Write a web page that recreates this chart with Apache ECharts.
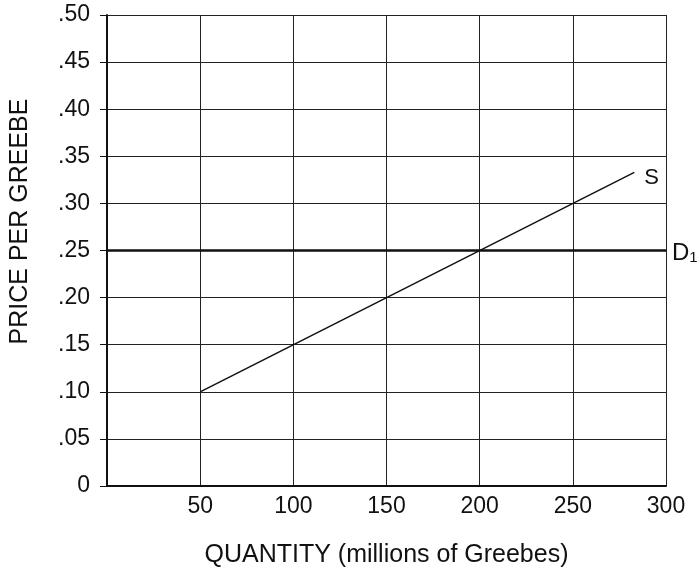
<!DOCTYPE html>
<html>
<head>
<meta charset="utf-8">
<script src="https://cdn.jsdelivr.net/npm/echarts@6/dist/echarts.min.js"></script>
<style>
  html, body { margin: 0; padding: 0; background: #fff; }
  #chart { width: 697px; height: 571px; }
</style>
</head>
<body>
<div id="chart"></div>
<script>
// supply / demand data
var supplyQty = [50, 283];
var supplyPrice = [0.10, 0.333];
var demandQty = [0, 300];
var demandPrice = [0.25, 0.25];
var xTicks = [0, 50, 100, 150, 200, 250, 300];
var yTicks = [0, 0.05, 0.10, 0.15, 0.20, 0.25, 0.30, 0.35, 0.40, 0.45, 0.50];

var FONT = 'Liberation Sans, Arial, sans-serif';
var INK = '#111';
var FS = 23;

function pairs(xs, ys) {
  var out = [];
  for (var i = 0; i < xs.length; i++) out.push([xs[i], ys[i]]);
  return out;
}

var myChart = echarts.init(document.getElementById('chart'));
var option = {
  animation: false,
  backgroundColor: '#fff',
  grid: { left: 107, right: 31, top: 15, bottom: 85, outerBoundsMode: 'none', containLabel: false },
  xAxis: {
    type: 'value',
    min: xTicks[0],
    max: xTicks[xTicks.length - 1],
    interval: 50,
    name: 'QUANTITY (millions of Greebes)',
    nameLocation: 'middle',
    nameGap: 57,
    nameTextStyle: { fontFamily: FONT, fontSize: 25, color: INK },
    axisLine: { show: true, lineStyle: { color: INK, width: 2 } },
    axisTick: { show: false },
    axisLabel: {
      margin: 9,
      fontFamily: FONT, fontSize: FS, color: INK,
      formatter: function (v) { return v === 0 ? '' : String(v); }
    },
    splitLine: { show: true, lineStyle: { color: '#222', width: 1 } }
  },
  yAxis: {
    type: 'value',
    min: yTicks[0],
    max: yTicks[yTicks.length - 1],
    interval: 0.05,
    name: 'PRICE PER GREEBE',
    nameLocation: 'middle',
    nameGap: 74,
    nameRotate: 90,
    nameTextStyle: { fontFamily: FONT, fontSize: 25, color: INK, padding: [0, 0, 0, 58] },
    axisLine: { show: true, lineStyle: { color: INK, width: 2 } },
    axisTick: { show: true, length: 7, lineStyle: { color: INK, width: 1 } },
    axisLabel: {
      margin: 17,
      fontFamily: FONT, fontSize: FS, color: INK,
      formatter: function (v) {
        if (v === 0) return '0';
        return '.' + Math.round(v * 100).toString().padStart(2, '0');
      }
    },
    splitLine: { show: true, lineStyle: { color: '#222', width: 1 } }
  },
  series: [
    {
      name: 'D1',
      type: 'line',
      data: pairs(demandQty, demandPrice),
      symbol: 'none',
      lineStyle: { color: INK, width: 2.5 },
      endLabel: {
        show: true,
        distance: 6,
        formatter: '{d|D}{s|1}',
        rich: {
          d: { fontFamily: FONT, fontSize: 24, color: INK, verticalAlign: 'bottom' },
          s: { fontFamily: FONT, fontSize: 15, color: INK, padding: [14, 0, 0, 0] }
        }
      }
    },
    {
      name: 'S',
      type: 'line',
      data: pairs(supplyQty, supplyPrice),
      symbol: 'none',
      lineStyle: { color: INK, width: 1.5 },
      endLabel: {
        show: true,
        distance: 10,
        offset: [0, 6],
        formatter: 'S',
        fontFamily: FONT, fontSize: 22, color: INK
      }
    }
  ]
};
myChart.setOption(option);
</script>
</body>
</html>
